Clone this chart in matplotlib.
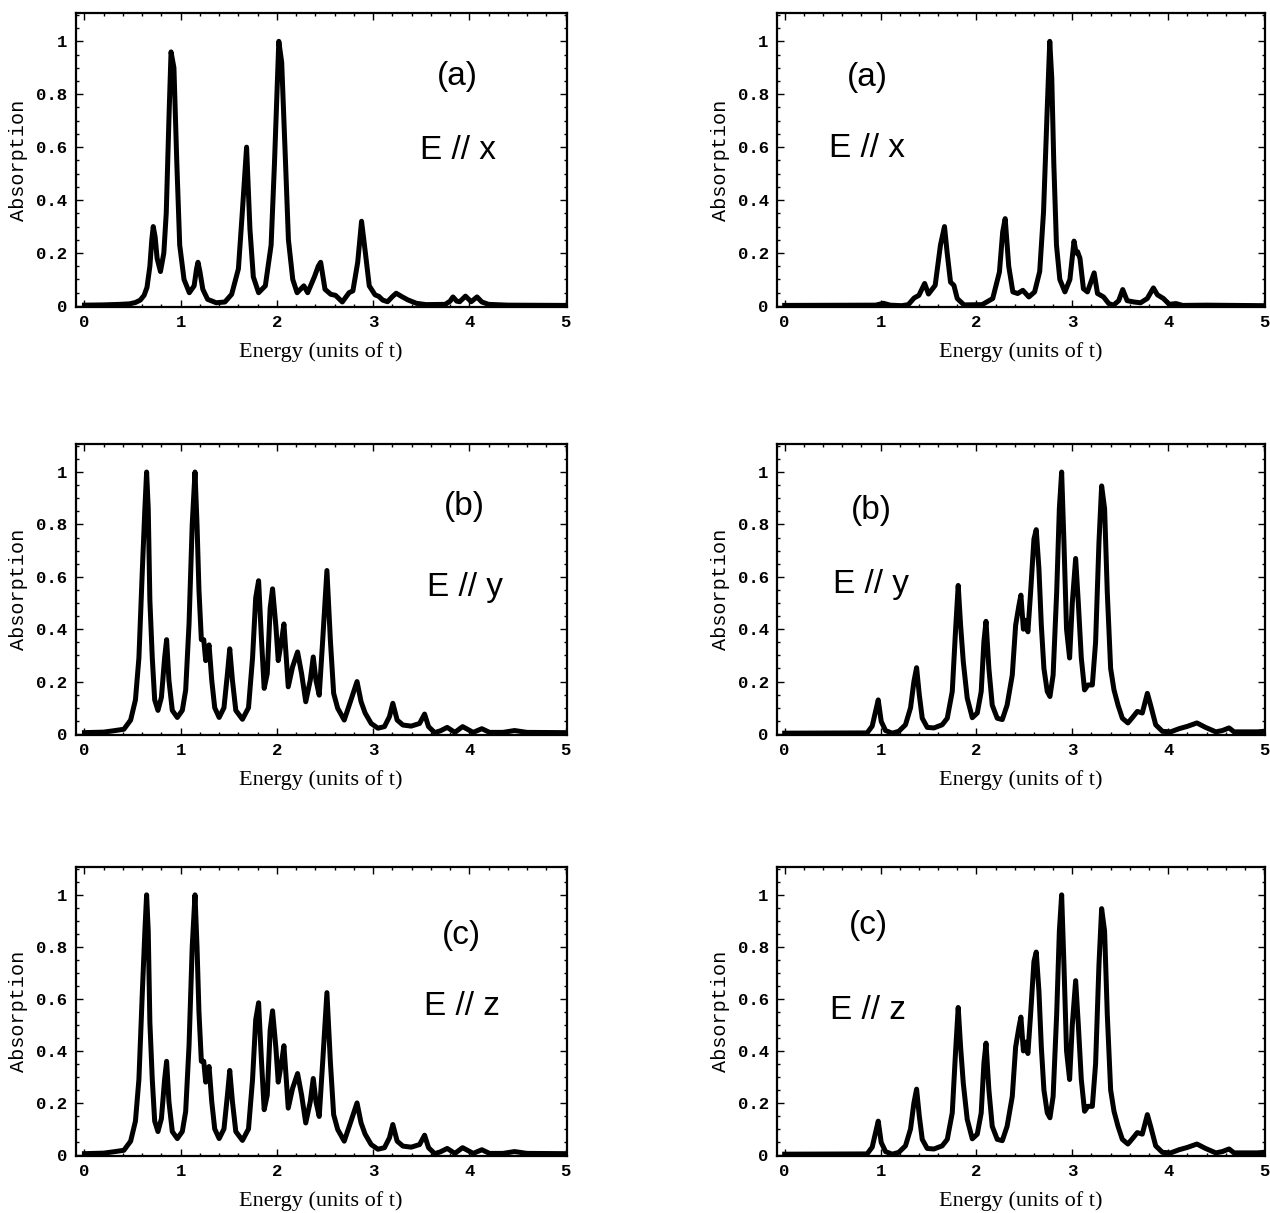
import numpy as np
import matplotlib
matplotlib.use("Agg")
import matplotlib.pyplot as plt
from matplotlib.ticker import MultipleLocator

# ---- spectra (energy, absorption) ----
x_ax_left = [0.00, 0.20, 0.37, 0.47, 0.53, 0.58, 0.62, 0.65, 0.68, 0.70, 0.715, 0.735, 0.755, 0.79,
             0.825, 0.85, 0.88, 0.90, 0.93, 0.96, 0.99, 1.035, 1.09, 1.14, 1.165, 1.18, 1.20, 1.23,
             1.28, 1.37, 1.46, 1.53, 1.60, 1.64, 1.685, 1.72, 1.755, 1.81, 1.88, 1.94, 1.975, 2.02,
             2.05, 2.09, 2.12, 2.165, 2.21, 2.28, 2.32, 2.39, 2.43, 2.455, 2.50, 2.56, 2.61, 2.68,
             2.75, 2.79, 2.84, 2.88, 2.92, 2.96, 3.02, 3.06, 3.10, 3.15, 3.20, 3.24, 3.30, 3.36,
             3.45, 3.55, 3.75, 3.80, 3.83, 3.87, 3.90, 3.96, 4.02, 4.08, 4.13, 4.20, 4.40, 5.00]
y_ax_left = [0.003, 0.004, 0.006, 0.008, 0.013, 0.022, 0.040, 0.070, 0.150, 0.250, 0.300, 0.260, 0.180, 0.130,
             0.200, 0.350, 0.730, 0.960, 0.900, 0.540, 0.230, 0.100, 0.050, 0.076, 0.140, 0.165, 0.130, 0.063,
             0.025, 0.012, 0.015, 0.044, 0.140, 0.350, 0.600, 0.290, 0.110, 0.050, 0.076, 0.230, 0.540, 1.000,
             0.920, 0.540, 0.250, 0.100, 0.050, 0.076, 0.050, 0.110, 0.150, 0.165, 0.063, 0.044, 0.040, 0.015,
             0.050, 0.057, 0.165, 0.320, 0.200, 0.076, 0.042, 0.036, 0.022, 0.016, 0.035, 0.048, 0.035, 0.023,
             0.010, 0.005, 0.006, 0.018, 0.034, 0.018, 0.016, 0.037, 0.016, 0.034, 0.015, 0.006, 0.003, 0.002]

x_ax_right = [0.00, 0.95, 1.03, 1.10, 1.22, 1.29, 1.35, 1.40, 1.46, 1.50, 1.57, 1.625, 1.667, 1.695,
              1.73, 1.765, 1.80, 1.87, 2.06, 2.17, 2.24, 2.274, 2.30, 2.337, 2.38, 2.43, 2.484, 2.547,
              2.607, 2.66, 2.70, 2.737, 2.765, 2.786, 2.807, 2.835, 2.87, 2.923, 2.975, 3.018, 3.04,
              3.055, 3.08, 3.116, 3.158, 3.228, 3.263, 3.326, 3.38, 3.43, 3.484, 3.526, 3.572, 3.642,
              3.712, 3.782, 3.846, 3.888, 3.951, 4.011, 4.081, 4.151, 4.40, 5.00]
y_ax_right = [0.002, 0.003, 0.010, 0.003, 0.001, 0.005, 0.030, 0.040, 0.085, 0.045, 0.078, 0.230, 0.300, 0.200,
              0.090, 0.078, 0.028, 0.004, 0.005, 0.028, 0.128, 0.280, 0.330, 0.150, 0.053, 0.047, 0.059, 0.034,
              0.053, 0.130, 0.355, 0.730, 1.000, 0.860, 0.540, 0.230, 0.100, 0.053, 0.100, 0.245, 0.200,
              0.205, 0.180, 0.065, 0.053, 0.125, 0.047, 0.034, 0.009, 0.003, 0.020, 0.062, 0.020, 0.015,
              0.012, 0.028, 0.068, 0.042, 0.028, 0.006, 0.009, 0.002, 0.003, 0.001]

x_ay_left = [0.00, 0.20, 0.30, 0.41, 0.48, 0.53, 0.566, 0.60, 0.628, 0.646, 0.663, 0.68, 0.705, 0.73,
             0.764, 0.80, 0.833, 0.854, 0.878, 0.913, 0.965, 1.017, 1.052, 1.087, 1.12, 1.149, 1.17,
             1.19, 1.215, 1.24, 1.26, 1.295, 1.323, 1.354, 1.40, 1.45, 1.486, 1.51, 1.538, 1.573,
             1.642, 1.705, 1.747, 1.78, 1.81, 1.84, 1.868, 1.90, 1.93, 1.955, 1.99, 2.014, 2.05,
             2.073, 2.094, 2.118, 2.163, 2.215, 2.257, 2.30, 2.347, 2.378, 2.406, 2.44, 2.476, 2.52,
             2.556, 2.59, 2.632, 2.70, 2.77, 2.833, 2.875, 2.917, 2.98, 3.05, 3.118, 3.17, 3.205,
             3.25, 3.31, 3.396, 3.483, 3.535, 3.576, 3.64, 3.70, 3.77, 3.85, 3.93, 4.04, 4.13, 4.21,
             4.35, 4.47, 4.60, 5.00]
y_ay_left = [0.005, 0.007, 0.012, 0.018, 0.053, 0.130, 0.290, 0.610, 0.860, 1.000, 0.860, 0.510, 0.290, 0.130,
             0.090, 0.140, 0.290, 0.360, 0.205, 0.090, 0.063, 0.090, 0.167, 0.420, 0.800, 1.000, 0.800,
             0.550, 0.360, 0.360, 0.280, 0.340, 0.205, 0.100, 0.063, 0.100, 0.230, 0.325, 0.205, 0.090,
             0.056, 0.100, 0.290, 0.520, 0.585, 0.360, 0.174, 0.230, 0.480, 0.554, 0.410, 0.280, 0.360,
             0.420, 0.310, 0.180, 0.256, 0.313, 0.230, 0.123, 0.205, 0.294, 0.205, 0.148, 0.357, 0.624,
             0.357, 0.155, 0.098, 0.053, 0.130, 0.200, 0.123, 0.080, 0.040, 0.022, 0.028, 0.066, 0.117,
             0.053, 0.034, 0.030, 0.040, 0.076, 0.028, 0.005, 0.012, 0.025, 0.006, 0.028, 0.006, 0.020, 0.006,
             0.006, 0.013, 0.006, 0.005]

x_ay_right = [0.00, 0.86, 0.913, 0.948, 0.976, 1.007, 1.052, 1.122, 1.19, 1.26, 1.313, 1.348, 1.376,
              1.404, 1.435, 1.487, 1.557, 1.643, 1.696, 1.748, 1.783, 1.81, 1.835, 1.863, 1.904, 1.957,
              2.009, 2.05, 2.078, 2.10, 2.13, 2.165, 2.217, 2.27, 2.32, 2.374, 2.409, 2.443, 2.464,
              2.49, 2.513, 2.537, 2.565, 2.60, 2.624, 2.652, 2.677, 2.704, 2.739, 2.767, 2.80, 2.837,
              2.865, 2.889, 2.913, 2.94, 2.972, 3.00, 3.035, 3.063, 3.094, 3.128, 3.163, 3.209, 3.243,
              3.278, 3.306, 3.337, 3.365, 3.40, 3.435, 3.477, 3.522, 3.58, 3.637, 3.678, 3.73, 3.783,
              3.817, 3.87, 3.94, 4.026, 4.113, 4.20, 4.30, 4.39, 4.497, 4.565, 4.635, 4.687, 4.93, 5.00]
y_ay_right = [0.003, 0.004, 0.030, 0.086, 0.130, 0.048, 0.013, 0.003, 0.010, 0.035, 0.100, 0.200, 0.253,
              0.150, 0.060, 0.025, 0.023, 0.035, 0.060, 0.162, 0.400, 0.567, 0.415, 0.276, 0.137, 0.062,
              0.080, 0.162, 0.352, 0.430, 0.250, 0.110, 0.060, 0.055, 0.110, 0.225, 0.415, 0.490, 0.530,
              0.400, 0.434, 0.390, 0.540, 0.744, 0.780, 0.630, 0.415, 0.250, 0.162, 0.143, 0.225, 0.540,
              0.860, 1.000, 0.730, 0.400, 0.290, 0.500, 0.670, 0.500, 0.290, 0.168, 0.187, 0.187, 0.350,
              0.730, 0.947, 0.860, 0.540, 0.250, 0.168, 0.110, 0.060, 0.042, 0.067, 0.086, 0.080, 0.155,
              0.110, 0.035, 0.010, 0.008, 0.020, 0.029, 0.042, 0.025, 0.008, 0.013, 0.023, 0.008, 0.008, 0.010]

# E//z spectra are the same as E//y in the original
x_az_left, y_az_left = x_ay_left, y_ay_left
x_az_right, y_az_right = x_ay_right, y_ay_right

x_ticks = [0, 1, 2, 3, 4, 5]
y_ticks = [0, 0.2, 0.4, 0.6, 0.8, 1.0]
y_ticklabels = ["0", "0.2", "0.4", "0.6", "0.8", "1"]

# (x data, y data, panel tag, field label, label x, tag y, field y)
panels = [
    [(x_ax_left, y_ax_left, "(a)", "E // x", 3.88, 0.834, 0.555),
     (x_ax_right, y_ax_right, "(a)", "E // x", 0.86, 0.83, 0.561)],
    [(x_ay_left, y_ay_left, "(b)", "E // y", 3.95, 0.836, 0.526),
     (x_ay_right, y_ay_right, "(b)", "E // y", 0.90, 0.822, 0.537)],
    [(x_az_left, y_az_left, "(c)", "E // z", 3.92, 0.81, 0.538),
     (x_az_right, y_az_right, "(c)", "E // z", 0.87, 0.85, 0.523)],
]

W, H = 1270, 1213
fig = plt.figure(figsize=(W / 100, H / 100), dpi=100)
col_px = [(75.5, 491), (777, 488)]
row_px = [(13, 307), (444, 735), (867, 1156)]
xlo = [-0.093, -0.08]

for r, row in enumerate(panels):
    for c, (xs, ys, tag, field, lx, ty, fy) in enumerate(row):
        left, width = col_px[c]
        top, bottom = row_px[r]
        ax = fig.add_axes([left / W, 1 - bottom / H, width / W, (bottom - top) / H])
        ax.plot(xs, ys, color="black", lw=3.6, solid_joinstyle="round")
        ax.set_xlim(xlo[c], 5.01)
        ax.set_ylim(-0.004, 1.107)
        ax.set_xticks(x_ticks)
        ax.set_xticklabels([str(t) for t in x_ticks])
        ax.set_yticks(y_ticks)
        ax.set_yticklabels(y_ticklabels)
        ax.xaxis.set_minor_locator(MultipleLocator(0.2))
        ax.yaxis.set_minor_locator(MultipleLocator(0.05))
        ax.tick_params(which="both", direction="in", top=True, right=True, width=1.0)
        ax.tick_params(which="major", length=5, pad=6)
        ax.tick_params(which="minor", length=2.5)
        for lab in ax.get_xticklabels() + ax.get_yticklabels():
            lab.set_fontfamily("Liberation Mono")
            lab.set_fontweight("bold")
            lab.set_fontsize(12.5)
        for sp in ax.spines.values():
            sp.set_linewidth(1.6)
        ax.set_xlabel("Energy (units of t)", fontfamily="Liberation Serif", fontsize=16)
        ax.xaxis.set_label_coords(0.5, -35 / (bottom - top))
        ax.set_ylabel("Absorption", fontfamily="Liberation Mono", fontsize=14.5)
        ax.yaxis.set_label_coords(-47 / width, 0.5)
        ax.text(lx, ty, tag, fontfamily="Liberation Sans", fontsize=24, ha="center", va="baseline")
        ax.text(lx, fy, field, fontfamily="Liberation Sans", fontsize=24, ha="center", va="baseline")

fig.savefig("out.png", dpi=100)
